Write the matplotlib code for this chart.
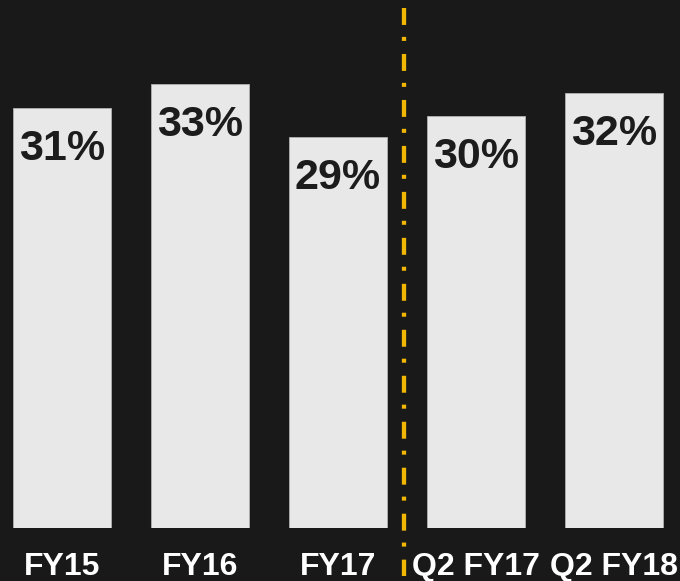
import matplotlib.pyplot as plt
import matplotlib.transforms as mtransforms

categories = ["FY15", "FY16", "FY17", "Q2 FY17", "Q2 FY18"]
values = [31.0, 32.8, 28.9, 30.4, 32.1]
labels = ["31%", "33%", "29%", "30%", "32%"]
divider_x = 2.48

plt.rcParams['font.family'] = ['Liberation Sans', 'DejaVu Sans']
plt.rcParams['lines.scale_dashes'] = False

bg = '#191919'
fig = plt.figure(figsize=(6.8, 5.81), dpi=100, facecolor=bg)
ax = fig.add_axes([0, 53/581, 1, 528/581])
ax.set_facecolor(bg)

x = range(len(categories))
bars = ax.bar(x, values, width=0.71, color='#e8e8e8', edgecolor='#b0b0b0', linewidth=0.6)

for xi, v, lab in zip(x, values, labels):
    ax.annotate(lab, (xi, v), xytext=(0, -15), textcoords='offset points',
                ha='center', va='top', fontsize=31, fontweight='bold', color='#1c1c1c')

ax.set_xlim(-0.45, 4.48)
ax.set_ylim(0, 39)
ax.set_xticks(list(x))
ax.set_xticklabels(categories, fontsize=23, fontweight='bold', color='white')
ax.tick_params(axis='x', length=0, pad=17)
ax.set_yticks([])
for s in ax.spines.values():
    s.set_visible(False)

# dash-dot divider between annual and quarterly
trans = mtransforms.blended_transform_factory(ax.transData, ax.transAxes)
ax.plot([divider_x, divider_x], [1 - 8/528, -48/528], transform=trans, clip_on=False,
        color='#f2b705', linewidth=3.1, dashes=(12.2, 8.6, 2.9, 9.4), solid_capstyle='butt')

fig.savefig('out.png', dpi=100, facecolor=bg)
